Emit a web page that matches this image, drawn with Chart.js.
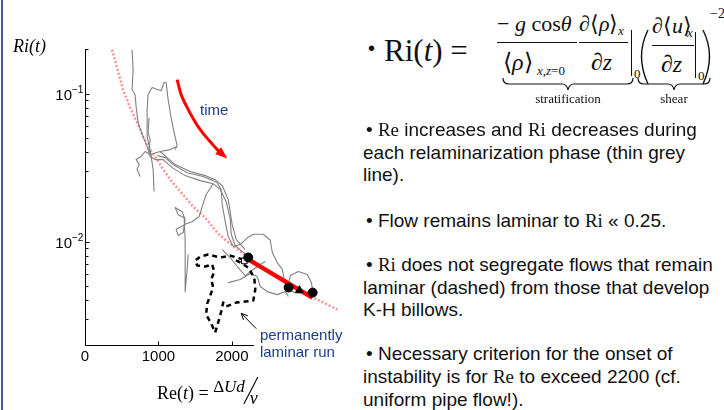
<!DOCTYPE html>
<html><head><meta charset="utf-8">
<script src="https://cdn.jsdelivr.net/npm/chart.js@4.4.1/dist/chart.umd.min.js"></script>
<style>
html,body{margin:0;padding:0;background:#fff;}
#wrap{position:relative;width:724px;height:410px;overflow:hidden;background:#fff;}
#c{position:absolute;left:0;top:0;}
.ln{position:absolute;font-family:'Liberation Sans',Arial,sans-serif;font-size:19px;line-height:23px;white-space:nowrap;color:#111;}
.s{font-family:'Liberation Serif','Times New Roman',serif;}
.m{position:absolute;font-family:'Liberation Serif','Times New Roman',serif;line-height:1;white-space:nowrap;color:#111;}
.bar{position:absolute;border-top:1.3px solid #111;height:0;}
.vb{position:absolute;border-left:1.3px solid #111;width:0;}
#border{position:absolute;left:1px;top:0;width:2px;height:410px;background:#3c5a9a;}
</style></head><body>
<div id="wrap">
<div id="border"></div>
<canvas id="c" width="360" height="410"></canvas>

<!-- formula -->
<div class="m" style="left:368px;top:38px;font-family:'Liberation Sans',Arial;font-size:20px;">•</div>
<div class="m" style="left:384px;top:35px;font-size:31px;">Ri(<i>t</i>) =</div>
<div class="m" style="left:497px;top:13px;font-size:22px;">− <i>g</i> cos<i>θ</i></div>
<div class="bar" style="left:497px;top:42px;width:80px;"></div>
<div class="m" style="left:503px;top:50px;font-size:24px;">⟨<i>ρ</i>⟩</div>
<div class="m" style="left:537px;top:64px;font-size:13px;"><i>x</i>,<i>z</i>=0</div>
<div class="m" style="left:579px;top:13px;font-size:22px;">∂⟨<i>ρ</i>⟩</div>
<div class="m" style="left:618px;top:24px;font-size:13px;"><i>x</i></div>
<div class="bar" style="left:579px;top:42px;width:49px;"></div>
<div class="m" style="left:591px;top:50px;font-size:24px;">∂<i>z</i></div>
<div class="vb" style="left:631px;top:30px;height:46px;"></div>
<div class="m" style="left:634px;top:67px;font-size:13px;">0</div>
<div class="m" style="left:652px;top:15px;font-size:22px;">∂⟨<i>u</i>⟩</div>
<div class="m" style="left:687px;top:26px;font-size:13px;"><i>x</i></div>
<div class="bar" style="left:652px;top:45px;width:42px;"></div>
<div class="m" style="left:661px;top:52px;font-size:24px;">∂<i>z</i></div>
<div class="vb" style="left:695px;top:32px;height:46px;"></div>
<div class="m" style="left:698px;top:69px;font-size:13px;">0</div>
<div class="m" style="left:710px;top:7px;font-size:14px;">−2</div>
<svg style="position:absolute;left:0;top:0;" width="724" height="120">
<path d="M648 30 Q635 56 648 84" stroke="#111" stroke-width="1.4" fill="none"/>
<path d="M703 30 Q716 56 703 84" stroke="#111" stroke-width="1.4" fill="none"/>
<path d="M503 78 Q503 84 509 84 L562 84 Q567 84 568 90 Q569 84 574 84 L627 84 Q633 84 633 78" stroke="#111" stroke-width="1.2" fill="none"/>
<path d="M638 78 Q638 84 644 84 L668 84 Q673 84 674 90 Q675 84 680 84 L704 84 Q710 84 710 78" stroke="#111" stroke-width="1.2" fill="none"/>
</svg>
<div class="m" style="left:568px;top:92px;font-size:13px;transform:translateX(-50%);">stratification</div>
<div class="m" style="left:674px;top:92px;font-size:13px;transform:translateX(-50%);">shear</div>

<!-- bullet text -->
<div class="ln" style="left:366px;top:118px;">• <span class="s">Re</span> increases and <span class="s">Ri</span> decreases during</div>
<div class="ln" style="left:363px;top:141px;">each relaminarization phase (thin grey</div>
<div class="ln" style="left:363px;top:163px;">line).</div>
<div class="ln" style="left:366px;top:209px;">• Flow remains laminar to <span class="s">Ri</span> « 0.25.</div>
<div class="ln" style="left:366px;top:253px;">• <span class="s">Ri</span> does not segregate flows that remain</div>
<div class="ln" style="left:363px;top:276px;">laminar (dashed) from those that develop</div>
<div class="ln" style="left:363px;top:298px;">K-H billows.</div>
<div class="ln" style="left:366px;top:342px;">• Necessary criterion for the onset of</div>
<div class="ln" style="left:363px;top:365px;">instability is for <span class="s">Re</span> to exceed 2200 (cf.</div>
<div class="ln" style="left:363px;top:388px;">uniform pipe flow!).</div>
</div>

<script>
// ---------- data (Re, Ri) ----------
const pinkRe=[368,437,518,614,709,791,859,955,1050,1159,1323,1473,1637,1814,2005,2210,2455,2796,3110,3437];
const pinkRi=[0.198,0.150,0.106,0.0804,0.0637,0.0512,0.0438,0.0375,0.0316,0.0262,0.0211,0.0172,0.0145,0.0113,0.0094,0.00792,0.00647,0.00512,0.00418,0.00347];

const grey1Re=[641,655,641,682,696,723,791,846,887,955,1064,1187,1364,1569,1746,1841,1923,1978,1991,2046,2141,2223];
const grey1Ri=[0.198,0.145,0.106,0.0985,0.0817,0.0637,0.0512,0.0438,0.0375,0.0358,0.0358,0.0316,0.0279,0.0258,0.0246,0.0225,0.0186,0.0141,0.0112,0.0094,0.00856,0.00792];

const grey2Re=[941,928,887,846,846,859,914,982,1037,1078,1105,1132,1173,1214,1255,1228];
const grey2Ri=[0.0218,0.0307,0.0418,0.0512,0.0779,0.0985,0.1098,0.1064,0.1048,0.1187,0.1187,0.0911,0.0688,0.0545,0.0445,0.0418];

const grey3Re=[750,709,737,696,764,818,887,1023,1159,1255];
const grey3Ri=[0.0275,0.0307,0.0331,0.0358,0.0375,0.0406,0.0387,0.0406,0.0418,0.0438];

const grey4Re=[982,1091,1200,1391,1610,1746,1800,1855,1869,1910,1951,2019,2114,2210,2292,2428,2523,2551,2619,2687,2714,2769,2796,2905,3028,3083,3096,2999,2864,2755];
const grey4Ri=[0.0381,0.0369,0.0331,0.0292,0.0275,0.0258,0.0250,0.0225,0.0178,0.0136,0.0108,0.00925,0.00954,0.0106,0.0112,0.0112,0.0102,0.00843,0.00721,0.00647,0.00554,0.00512,0.00589,0.00627,0.00598,0.00528,0.00481,0.00445,0.00452,0.00474];

const grey5Re=[1746,1650,1596,1555,1459,1378,1309,1241,1269,1337,1364,1323,1228,1269,1350,1364,1364,1364,1391,1405];
const grey5Ri=[0.0246,0.0208,0.0172,0.0148,0.0136,0.0132,0.0126,0.0121,0.0110,0.0115,0.0141,0.0159,0.0170,0.0152,0.0145,0.0103,0.00733,0.00459,0.00647,0.00817];

const grey6Re=[1869,1978,2073,2182,2292,2387,2455];
const grey6Ri=[0.00883,0.0078,0.00678,0.00589,0.00647,0.00699,0.00733];

const grey7Re=[1951,2114,2251,2346,2387,2482,2619,2728,2769];
const grey7Ri=[0.00528,0.00554,0.00608,0.0058,0.00497,0.00459,0.00438,0.00459,0.00425];

const grey8Re=[1023,1228,1432,1637,1773,1869,1951,2005,2060,2182];
const grey8Ri=[0.0406,0.0331,0.0297,0.0279,0.0262,0.0239,0.0192,0.0130,0.0103,0.00883];

const grey9Re=[873,859,887,873,900];
const grey9Ri=[0.0688,0.0545,0.0489,0.0418,0.0380];

const laminarRe=[2155,1978,1841,1678,1569,1500,1528,1637,1732,1760,1719,1746,1705,1664,1650,1719,1773,1814,1855,1882,1923,2060,2182,2292,2319,2305,2223,2114,2005];
const laminarRi=[0.00756,0.00804,0.0078,0.00817,0.0079,0.00744,0.00689,0.00678,0.0070,0.00627,0.00554,0.00489,0.00432,0.00381,0.00321,0.00279,0.00243,0.00284,0.00337,0.00387,0.00364,0.00387,0.00393,0.00399,0.00474,0.00571,0.00667,0.00722,0.00767];

const redRe=[2251,3096];
const redRi=[0.00744,0.00418];

const circleRe=[2223,2773,3100];
const circleRi=[0.0078,0.00489,0.00452];
const triangleRe=[2919];
const triangleRi=[0.00469];
const squareRe=[2170];
const squareRi=[0.0074];

const timeRe=[1255,1309,1378,1473,1569,1691,1814];
const timeRi=[0.1243,0.0985,0.0829,0.0678,0.0571,0.0481,0.0412];
const timeTip=[1937,0.0364];
const timeLabelPos=[1760,0.0767];
const laminarArrowTail=[2332,0.00258];
const laminarArrowHead=[2128,0.00327];

const xTicks=[0,1000,2000,3000];
const xTickLabels=['0','1000','2000','3000'];
const yMajorTicks=[0.01,0.1];
const yTickExponents=['\u22122','\u22121'];
const yMinorTicks=[0.002,0.003,0.004,0.005,0.006,0.007,0.008,0.009,0.02,0.03,0.04,0.05,0.06,0.07,0.08,0.09,0.2];
const xMin=0,xMax=3500,yMin=0.002,yMax=0.2;

// ---------- chart ----------
function pts(xs,ys){return xs.map((v,i)=>({x:v,y:ys[i]}));}
function line(xs,ys,color,width,dash,order,extra){
  return Object.assign({data:pts(xs,ys),showLine:true,borderColor:color,backgroundColor:color,borderWidth:width,
    borderDash:dash||[],pointRadius:0,pointHoverRadius:0,fill:false,order:order,tension:0,borderJoinStyle:'round'},extra||{});
}
function marks(xs,ys,style,r,order,bg,bc){
  return {data:pts(xs,ys),showLine:false,pointStyle:style,pointRadius:r,pointHoverRadius:r,
    backgroundColor:bg||'#000',borderColor:bc||'#000',borderWidth:1,order:order};
}
const GREY='#808080';
const datasets=[
  line(pinkRe,pinkRi,'rgba(255,110,110,0.75)',2.5,[2,2],6),
  line(grey1Re,grey1Ri,GREY,1.1,null,5),
  line(grey2Re,grey2Ri,GREY,1.1,null,5),
  line(grey3Re,grey3Ri,GREY,1.1,null,5),
  line(grey4Re,grey4Ri,GREY,1.1,null,5),
  line(grey5Re,grey5Ri,GREY,1.1,null,5),
  line(grey6Re,grey6Ri,GREY,1.1,null,5),
  line(grey7Re,grey7Ri,GREY,1.1,null,5),
  line(grey8Re,grey8Ri,GREY,1.1,null,5),
  line(grey9Re,grey9Ri,GREY,1.1,null,5),
  line(laminarRe,laminarRi,'#000',2.5,[5,4],4),
  line(redRe,redRi,'#ff0000',4.5,null,3),
  line(timeRe,timeRi,'#ff0000',3,null,3,{tension:0.4}),
  marks(squareRe,squareRi,'rect',4,2,'#fff','#000'),
  marks(circleRe,circleRi,'circle',4.5,1),
  marks(triangleRe,triangleRi,'triangle',4.5,1)
];

const overlay={
  id:'overlay',
  afterDatasetsDraw(chart){
    const {ctx,chartArea:a,scales:{x,y}}=chart;
    ctx.save();
    // arrowhead of the "time" arrow
    const n=timeRe.length;
    const bx=x.getPixelForValue(timeRe[n-1]), by=y.getPixelForValue(timeRi[n-1]);
    const tx=x.getPixelForValue(timeTip[0]), ty=y.getPixelForValue(timeTip[1]);
    const ang=Math.atan2(ty-by,tx-bx), w=4.5;
    ctx.fillStyle='#ff0000';
    ctx.beginPath();ctx.moveTo(tx,ty);
    ctx.lineTo(bx-w*Math.sin(ang),by+w*Math.cos(ang));
    ctx.lineTo(bx+w*Math.sin(ang),by-w*Math.cos(ang));
    ctx.closePath();ctx.fill();
    ctx.strokeStyle='#ff0000';ctx.lineWidth=3;
    ctx.beginPath();ctx.moveTo(bx-2*Math.cos(ang),by-2*Math.sin(ang));ctx.lineTo(bx+1,by+1);ctx.stroke();

    // axes
    ctx.strokeStyle='#000';ctx.lineWidth=1;
    const L=Math.round(a.left)+0.5, B=Math.round(a.bottom)+0.5;
    ctx.beginPath();ctx.moveTo(L,a.top);ctx.lineTo(L,B);ctx.lineTo(a.right,B);
    for(const v of xTicks){const p=Math.round(x.getPixelForValue(v))+0.5;ctx.moveTo(p,B);ctx.lineTo(p,B-4);}
    for(const v of yMajorTicks){const p=Math.round(y.getPixelForValue(v))+0.5;ctx.moveTo(L,p);ctx.lineTo(L+4,p);}
    for(const v of yMinorTicks){const p=Math.round(y.getPixelForValue(v))+0.5;ctx.moveTo(L,p);ctx.lineTo(L+3,p);}
    ctx.stroke();

    ctx.fillStyle='#000';
    ctx.font='15px "Liberation Sans", Arial, sans-serif';
    ctx.textAlign='center';ctx.textBaseline='alphabetic';
    xTicks.forEach((v,i)=>ctx.fillText(xTickLabels[i],x.getPixelForValue(v),a.bottom+16));
    yMajorTicks.forEach((v,i)=>{
      const p=y.getPixelForValue(v);
      ctx.font='15px "Liberation Sans", Arial, sans-serif';ctx.textAlign='right';
      ctx.fillText('10',a.left-13,p+6);
      ctx.font='10px "Liberation Sans", Arial, sans-serif';ctx.textAlign='left';
      ctx.fillText(yTickExponents[i],a.left-13,p-1);
    });

    // y axis title Ri(t)
    ctx.font='italic 18px "Liberation Serif", "Times New Roman", serif';
    ctx.textAlign='left';
    ctx.fillText('Ri(t)',a.left-72,a.top+3);

    // x axis title Re(t) = ΔUd / ν
    let cx=a.left+72; const base=a.bottom+54;
    const seg=(t,f,dy)=>{ctx.font=f;ctx.fillText(t,cx,base+(dy||0));cx+=ctx.measureText(t).width;};
    seg('Re(','18px "Liberation Serif", serif');
    seg('t','italic 18px "Liberation Serif", serif');
    seg(') = ','18px "Liberation Serif", serif');
    seg('\u0394','17px "Liberation Serif", serif',-7);
    seg('Ud','italic 17px "Liberation Serif", serif',-7);
    ctx.lineWidth=1.1;ctx.beginPath();ctx.moveTo(cx+13,base-22);ctx.lineTo(cx-1,base+5);ctx.stroke();
    ctx.font='italic 18px "Liberation Serif", serif';ctx.fillText('\u03BD',cx+5,base+5);

    // time label
    ctx.fillStyle='#1f3c88';ctx.font='15px "Liberation Sans", Arial, sans-serif';
    ctx.textAlign='center';ctx.textBaseline='middle';
    ctx.fillText('time',x.getPixelForValue(timeLabelPos[0]),y.getPixelForValue(timeLabelPos[1]));

    // laminar-run label box (covers the axis like the original text box)
    const lx=x.getPixelForValue(2300);
    ctx.fillStyle='#fff';ctx.fillRect(lx,a.bottom-19,chart.width-lx,48);
    ctx.fillStyle='#1f3c88';ctx.textAlign='left';ctx.textBaseline='alphabetic';
    ctx.fillText('permanently',lx+6,a.bottom-5);
    ctx.fillText('laminar run',lx+6,a.bottom+12);

    // arrow pointing at the dashed run
    const ax0=x.getPixelForValue(laminarArrowTail[0]),ay0=y.getPixelForValue(laminarArrowTail[1]);
    const ax1=x.getPixelForValue(laminarArrowHead[0]),ay1=y.getPixelForValue(laminarArrowHead[1]);
    const g=Math.atan2(ay1-ay0,ax1-ax0);
    ctx.strokeStyle='#000';ctx.lineWidth=1;
    ctx.beginPath();ctx.moveTo(ax0,ay0);ctx.lineTo(ax1,ay1);
    ctx.moveTo(ax1-7*Math.cos(g-0.45),ay1-7*Math.sin(g-0.45));ctx.lineTo(ax1,ay1);
    ctx.lineTo(ax1-7*Math.cos(g+0.45),ay1-7*Math.sin(g+0.45));
    ctx.stroke();
    ctx.restore();
  }
};

new Chart(document.getElementById('c'),{
  type:'scatter',
  data:{datasets:datasets},
  options:{
    responsive:false,animation:false,
    layout:{padding:{left:85,top:49,right:18,bottom:65}},
    plugins:{legend:{display:false},tooltip:{enabled:false}},
    events:[],
    scales:{
      x:{type:'linear',min:xMin,max:xMax,display:false},
      y:{type:'logarithmic',min:yMin,max:yMax,display:false}
    }
  },
  plugins:[overlay]
});
</script>
</body></html>
